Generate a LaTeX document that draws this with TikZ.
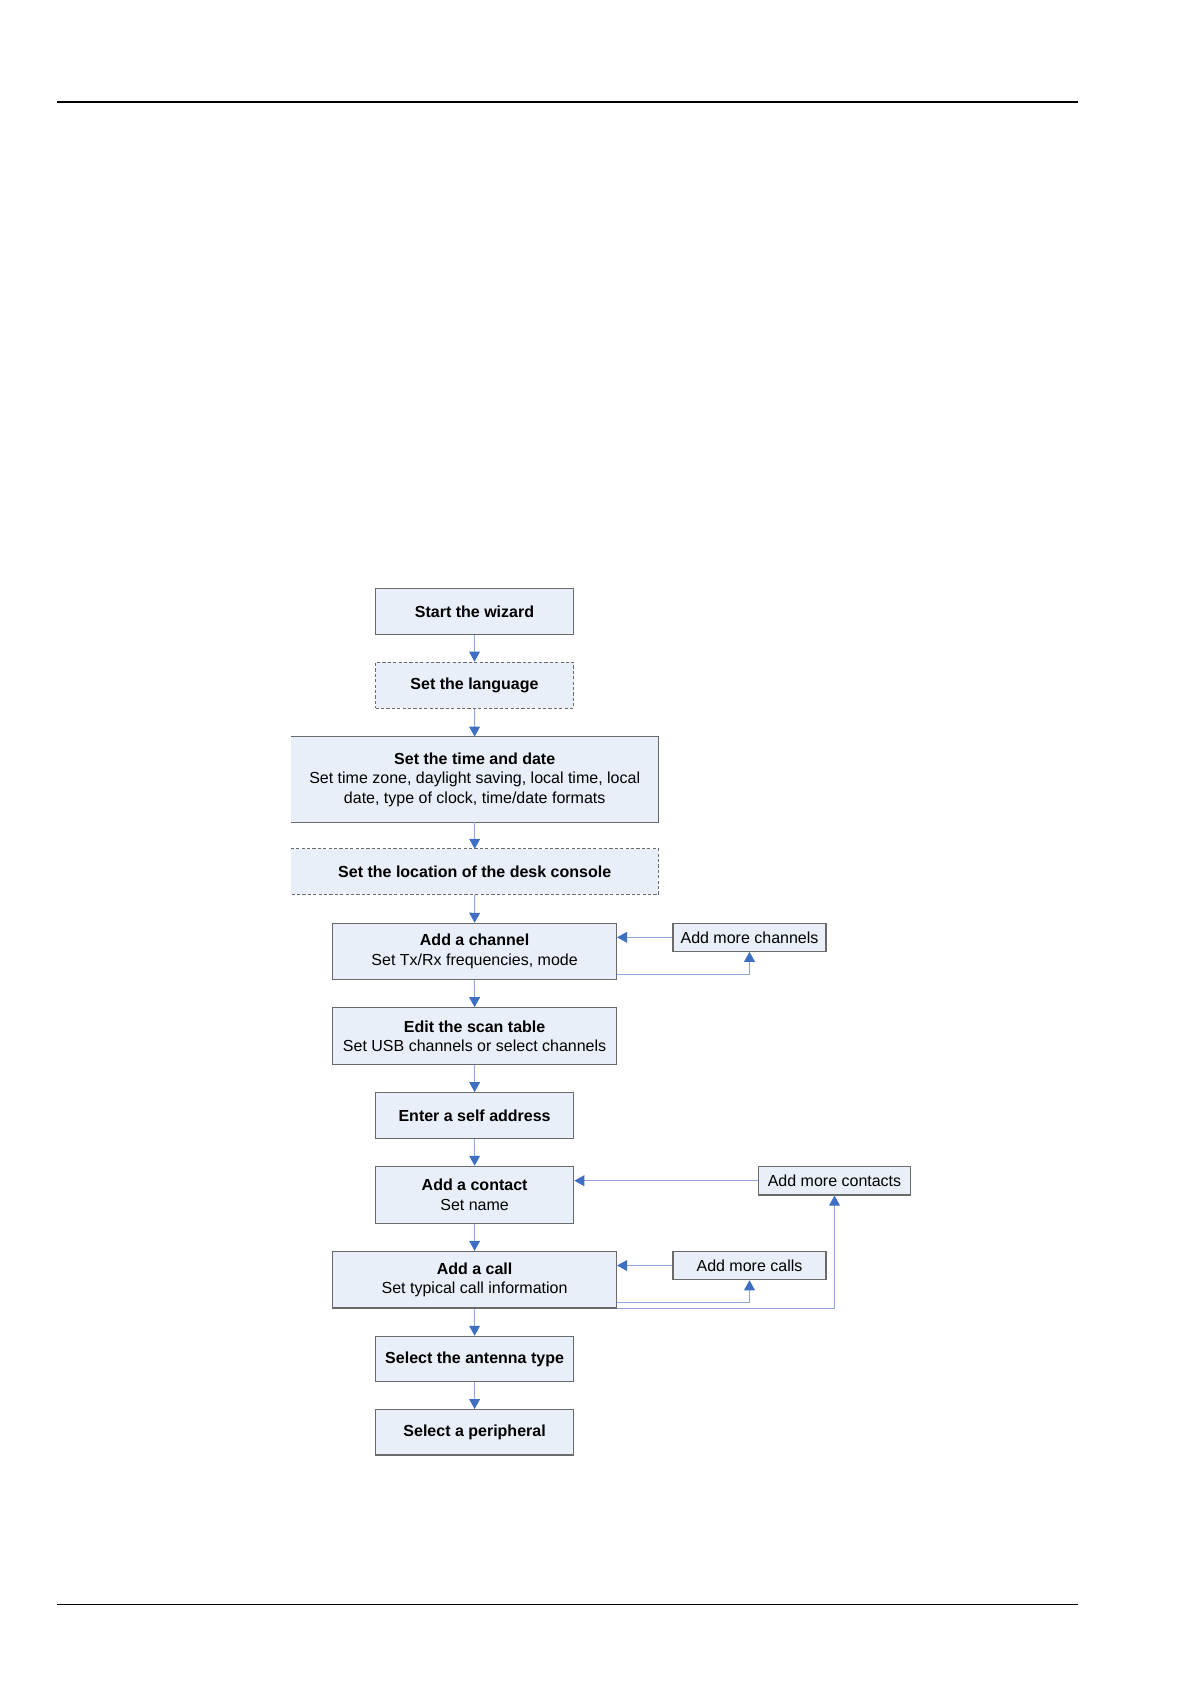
\documentclass[tikz,border=0pt]{standalone}
\usepackage{fontspec}
\setmainfont{Liberation Sans}
\usetikzlibrary{arrows.meta}
\definecolor{boxfill}{HTML}{E9EFF8}
\definecolor{boxline}{HTML}{6A6A6A}
\definecolor{linecol}{HTML}{8FA6D8}
\definecolor{tipcol}{HTML}{3F6FC2}
\begin{document}
\begin{tikzpicture}[x=0.5pt,y=-0.5pt,
  stepbox/.style={draw=boxline,line width=0.55pt,fill=boxfill,inner sep=0pt,align=center,
    font=\fontsize{8}{9.7}\selectfont},
  openbox/.style={fill=boxfill,inner sep=0pt,align=center,font=\fontsize{8}{9.7}\selectfont},
  edge3/.style={draw=boxline,line width=0.55pt},
  flow/.style={draw=linecol,line width=0.5pt,-{Triangle[width=5.4pt,length=5pt,color=tipcol]}},
  hdr/.style={line width=0.7pt,black}]
\useasboundingbox (0,0) rectangle (1190,1684);
\draw[hdr] (57,102) -- (1078,102);
\draw[hdr] (57,1604.3) -- (1078,1604.3);

\node[stepbox,minimum width=99pt,minimum height=23pt] (start) at (474.5,611.3) {\textbf{Start the wizard}};
\node[stepbox,dashed,dash pattern=on 1.6pt off 1.1pt,minimum width=99pt,minimum height=23pt] (lang) at (474.5,685.2) {\textbf{Set the language}};
\node[openbox,minimum width=183.6pt,minimum height=42.5pt] (time) at (474.7,779.5) {\textbf{Set the time and date}\\Set time zone, daylight saving, local time, local\\date, type of clock, time/date formats};
\draw[edge3] (time.north west) -- (time.north east) -- (time.south east) -- (time.south west);
\node[openbox,minimum width=183.6pt,minimum height=22.4pt] (loc) at (474.7,871.7) {\textbf{Set the location of the desk console}};
\draw[edge3,dash pattern=on 1.6pt off 1.1pt] (loc.north west) -- (loc.north east) -- (loc.south east) -- (loc.south west);
\node[stepbox,minimum width=141.9pt,minimum height=28pt] (chan) at (474.6,951.3) {\textbf{Add a channel}\\Set Tx/Rx frequencies, mode};
\node[stepbox,minimum width=76.5pt,minimum height=14pt] (amc) at (749.5,937.3) {Add more channels};
\node[stepbox,minimum width=141.9pt,minimum height=28.3pt] (scan) at (474.6,1036) {\textbf{Edit the scan table}\\Set USB channels or select channels};
\node[stepbox,minimum width=99.2pt,minimum height=22.8pt] (self) at (474.6,1115.5) {\textbf{Enter a self address}};
\node[stepbox,minimum width=99.2pt,minimum height=28.5pt] (contact) at (474.6,1194.8) {\textbf{Add a contact}\\Set name};
\node[stepbox,minimum width=76.2pt,minimum height=14.3pt] (amcon) at (834.5,1180.7) {Add more contacts};
\node[stepbox,minimum width=141.9pt,minimum height=28.3pt] (call) at (474.6,1279.7) {\textbf{Add a call}\\Set typical call information};
\node[stepbox,minimum width=76.5pt,minimum height=14.2pt] (amcall) at (749.5,1265.5) {Add more calls};
\node[stepbox,minimum width=99.2pt,minimum height=22.7pt] (ant) at (474.6,1359) {\textbf{Select the antenna type}};
\node[stepbox,minimum width=99.2pt,minimum height=22.7pt] (per) at (474.6,1432.3) {\textbf{Select a peripheral}};

\draw[flow] (start) -- (lang);
\draw[flow] (lang) -- (time);
\draw[flow] (time.south) -- (loc.north);
\draw[flow] (loc.south) -- (chan.north);
\draw[flow] (chan) -- (scan);
\draw[flow] (scan) -- (self);
\draw[flow] (self) -- (contact);
\draw[flow] (contact) -- (call);
\draw[flow] (call) -- (ant);
\draw[flow] (ant) -- (per);

\draw[flow] (amc.west) -- (amc.west -| chan.east);
\coordinate (chloop) at (616.5,974);
\draw[flow] (chloop) -| (amc.south);
\draw[flow] (amcon.west) -- (amcon.west -| contact.east);
\draw[flow] (amcall.west) -- (amcall.west -| call.east);
\coordinate (caloop) at (616.5,1302.3);
\draw[flow] (caloop) -| (amcall.south);
\draw[flow] (call.south east) -| (amcon.south);
\end{tikzpicture}
\end{document}
